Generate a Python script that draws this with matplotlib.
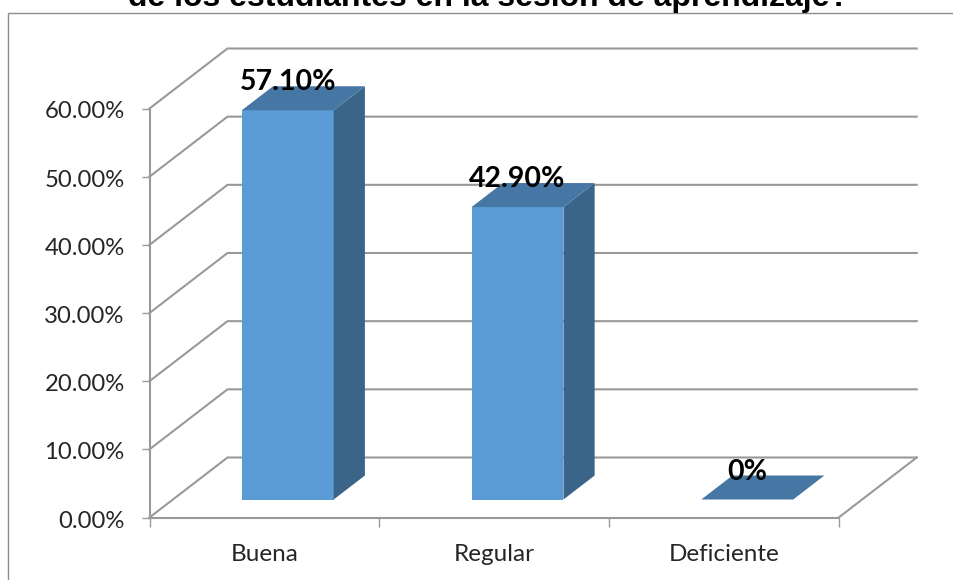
import matplotlib
matplotlib.use('Agg')
import matplotlib.pyplot as plt
from matplotlib.patches import Rectangle
from matplotlib.ticker import FixedLocator
from matplotlib.transforms import ScaledTranslation

# datos
categorias = ['Buena', 'Regular', 'Deficiente']
valores = [57.1, 42.9, 0]
etiquetas = ['57.10%', '42.90%', '0%']
ticks_y = [0, 10, 20, 30, 40, 50, 60]
titulo = 'de los estudiantes en la sesión de aprendizaje?'

W, H = 954, 580
# plano frontal en pixeles
X0, X1 = 149.5, 838.7
Y0, Y1 = 517.5, 108.5

# oblicua: cuanto se corre el fondo en unidades de los ejes
DX = 78 / ((X1 - X0) / 3)
DY = 60 / ((Y0 - Y1) / 60)
D_INI, D_FIN = 0.3, 0.7
ANCHO = 0.4

GRIS = '#999999'
FRENTE = '#5b9bd5'
LADO = '#3a6588'
TECHO = '#4676a3'


def proy(x, y, d):
    return x + d * DX, y + d * DY


fig = plt.figure(figsize=(W / 100, H / 100), dpi=100)
ax = fig.add_axes([X0 / W, 1 - Y0 / H, (X1 - X0) / W, (Y0 - Y1) / H])
ax.set_xlim(0, 3)
ax.set_ylim(0, 60)
ax.patch.set_visible(False)

# marco del grafico, se sale por la derecha y por abajo
fig.add_artist(Rectangle((8.5 / W, -0.1), 1.1, 1.1 - 12.5 / H, transform=fig.transFigure,
                         fill=False, ec='#8c8c8c', lw=1.0))

# rejilla en la pared izquierda y del fondo
for v in ticks_y:
    xa, ya = proy(0, v, 0)
    xb, yb = proy(0, v, 1)
    xc, yc = proy(3, v, 1)
    ax.plot([xa, xb, xc], [ya, yb, yc], color=GRIS, lw=1.5, clip_on=False, zorder=1,
            solid_joinstyle='miter')

# borde derecho del piso
xa, ya = proy(3, 0, 0)
xb, yb = proy(3, 0, 1)
ax.plot([xa, xb], [ya, yb], color=GRIS, lw=1.5, clip_on=False, zorder=1)

# barras 3d
for i, v in enumerate(valores):
    izq = i + 0.5 - ANCHO / 2
    der = izq + ANCHO
    esquinas = [proy(izq, 0, D_INI), proy(der, 0, D_INI), proy(der, v, D_INI), proy(izq, v, D_INI)]
    lado = [proy(der, 0, D_INI), proy(der, 0, D_FIN), proy(der, v, D_FIN), proy(der, v, D_INI)]
    techo = [proy(izq, v, D_INI), proy(der, v, D_INI), proy(der, v, D_FIN), proy(izq, v, D_FIN)]
    if v > 0:
        ax.fill(*zip(*esquinas), color=FRENTE, lw=0, clip_on=False, zorder=3)
        ax.fill(*zip(*lado), color=LADO, lw=0, clip_on=False, zorder=3)
    ax.fill(*zip(*techo), color=TECHO, lw=0, clip_on=False, zorder=3)

    xt, yt = proy(i + 0.5, v, D_INI)
    ax.annotate(etiquetas[i], (xt, yt), xytext=(0, 14.4), textcoords='offset points',
                ha='center', va='baseline', fontsize=20.5, family='Lato', fontweight='bold',
                color='black', zorder=5, annotation_clip=False)

# ejes
for s in ['top', 'right']:
    ax.spines[s].set_visible(False)
for s in ['left', 'bottom']:
    ax.spines[s].set_color(GRIS)
    ax.spines[s].set_linewidth(1.5)
    ax.spines[s].set_zorder(2)

ax.set_yticks(ticks_y)
ax.set_yticklabels([f'{v:.2f}%' for v in ticks_y])
ax.tick_params(axis='y', length=5.8, width=1.0, color=GRIS, pad=12, labelsize=17.2,
               labelcolor='#262626', labelfontfamily='Lato')
# las etiquetas del eje y van un poco mas abajo que la marca
bajar = ScaledTranslation(0, -1.5 / 100, fig.dpi_scale_trans)
for lab in ax.get_yticklabels():
    lab.set_transform(lab.get_transform() + bajar)

ax.xaxis.set_major_locator(FixedLocator([0, 1, 2, 3]))
ax.set_xticklabels([])
ax.set_xticks([0.5, 1.5, 2.5], minor=True)
ax.set_xticklabels(categorias, minor=True)
ax.tick_params(axis='x', which='major', length=6.5, width=1.0, color=GRIS)
ax.tick_params(axis='x', which='minor', length=0, pad=19, labelsize=17.5,
               labelcolor='#262626', labelfontfamily='Lato')

fig.text(488.5 / W, 1 - 6 / H, titulo, ha='center', va='baseline', fontsize=23,
         fontweight='bold', family='Liberation Sans', color='black')

fig.savefig('out.png', dpi=100)
